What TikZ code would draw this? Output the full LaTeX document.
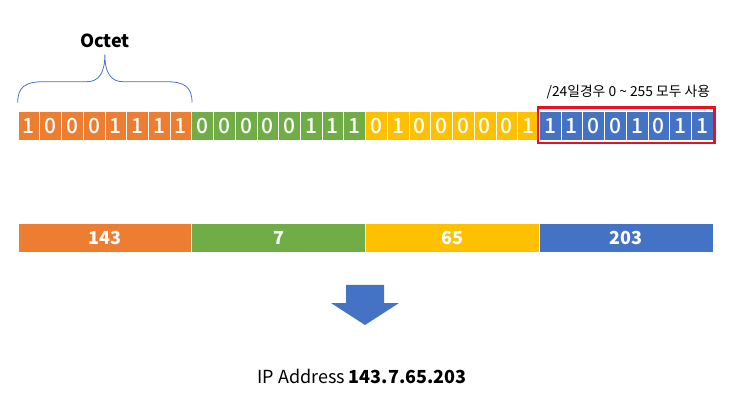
\documentclass[tikz,border=0pt]{standalone}
\usepackage{fontspec}
\setmainfont{Noto Sans CJK KR}
\newfontfamily\digitfont{Noto Sans CJK KR Medium}
\usetikzlibrary{positioning,fit,calc}

\definecolor{oct0}{HTML}{ED7D31}
\definecolor{oct1}{HTML}{70AD47}
\definecolor{oct2}{HTML}{FFC000}
\definecolor{oct3}{HTML}{4472C4}
\definecolor{hostred}{HTML}{E5131F}

\tikzset{
  bit/.style={draw=white, line width=0.6pt, minimum width=21.72pt, minimum height=29pt,
    inner sep=0pt, text=white, font=\fontsize{21}{21}\digitfont},
  dec/.style={draw=white, line width=0.6pt, minimum width=173.75pt, minimum height=29pt,
    inner sep=0pt, text=white, font=\fontsize{18}{18}\selectfont\bfseries},
}

\begin{document}
\begin{tikzpicture}[x=1pt, y=-1pt]
  \useasboundingbox (0,0) rectangle (736,403);

  % binary octets
  \foreach \bits [count=\k from 0] in {{1,0,0,0,1,1,1,1},{0,0,0,0,0,1,1,1},{0,1,0,0,0,0,0,1},{1,1,0,0,1,0,1,1}}
    \foreach \b [count=\j from 0] in \bits
      \node[bit, fill=oct\k] (b\k\j) at ({18+(8*\k+\j+0.5)*21.71875}, 125.5) {\b};

  % host part
  \node[draw=hostred, line width=2.4pt, inner xsep=1pt, inner ysep=3pt, fit=(b30)(b37)] (host) {};
  \node[anchor=base east, font=\fontsize{13.8}{13.8}\selectfont] (note) at ($(host.north east)+(-2,-10)$) {/24일경우 0 \char`~{} 255 모두 사용};

  % octet brace
  \coordinate (bl) at (b00.north west);
  \coordinate (br) at (b07.north east);
  \coordinate (tip) at ($(bl)!0.5!(br)+(0,-56)$);
  \draw[oct3, line width=0.8pt] ($(bl)+(0,-8)$) .. controls ($(bl)+(0,-24)$) and ($(bl)+(8,-29)$) .. ($(bl)+(26,-29)$)
    -- ($(tip)+(-18,27)$) .. controls ($(tip)+(-6,27)$) and ($(tip)+(0,18)$) .. (tip)
    .. controls ($(tip)+(0,18)$) and ($(tip)+(6,27)$) .. ($(tip)+(18,27)$)
    -- ($(br)+(-26,-29)$) .. controls ($(br)+(-8,-29)$) and ($(br)+(0,-24)$) .. ($(br)+(0,-8)$);
  \node[font=\fontsize{18}{18}\selectfont\bfseries] (octet) at ($(tip)+(0,-14)$) {Octet};

  % decimal octets
  \foreach \v [count=\k from 0] in {143,7,65,203}
    \node[dec, fill=oct\k] (d\k) at ({18+(\k+0.5)*173.75}, 237.5) {\v};

  % arrow
  \coordinate (ar) at (365,285);
  \fill[oct3] ($(ar)+(-19,0)$) -- ($(ar)+(19,0)$) -- ($(ar)+(19,18)$) -- ($(ar)+(34,18)$)
    -- ($(ar)+(0,40)$) -- ($(ar)+(-34,18)$) -- ($(ar)+(-19,18)$) -- cycle;

  \node[font=\fontsize{18}{18}\selectfont] (ip) at (362,376) {IP Address \textbf{143.7.65.203}};
\end{tikzpicture}
\end{document}
